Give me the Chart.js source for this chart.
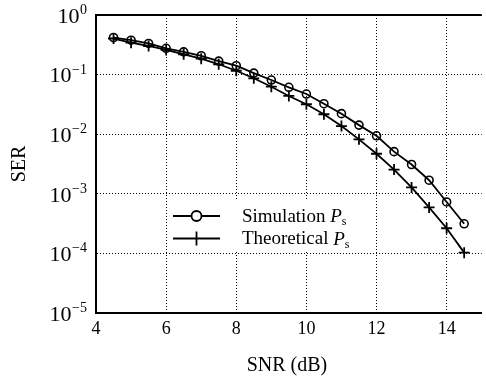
<!DOCTYPE html>
<html>
<head>
<meta charset="utf-8">
<script src="https://cdn.jsdelivr.net/npm/chart.js@4.4.1/dist/chart.umd.min.js"></script>
<style>
  html, body { margin: 0; padding: 0; background: #fff; overflow: hidden; }
</style>
</head>
<body>
<canvas id="myChart" width="489" height="378"></canvas>
<script>
// SNR in dB
const snr = [4.5, 5, 5.5, 6, 6.5, 7, 7.5, 8, 8.5, 9, 9.5, 10, 10.5, 11, 11.5, 12, 12.5, 13, 13.5, 14, 14.5];
// symbol error rate, simulation
const simulation = [0.419, 0.378, 0.333, 0.276, 0.241, 0.207, 0.168, 0.141, 0.106, 0.0811, 0.0612, 0.0472, 0.0325, 0.0221, 0.0142, 0.0094, 0.0051, 0.0031, 0.00169, 0.00073, 0.000314];
// symbol error rate, theory
const theoretical = [0.403, 0.343, 0.302, 0.259, 0.219, 0.185, 0.149, 0.116, 0.0867, 0.0626, 0.0438, 0.0318, 0.0216, 0.0137, 0.0082, 0.0047, 0.00255, 0.00128, 0.00059, 0.000264, 0.000103];
const legendNames = ['Simulation', 'Theoretical'];
const xTicks = [4, 6, 8, 10, 12, 14];
const yTicks = [1e-5, 1e-4, 1e-3, 1e-2, 1e-1, 1];

const serif = "'Liberation Serif', 'Times New Roman', serif";

const toPoints = (ys) => snr.map((x, i) => ({ x: x, y: ys[i] }));

// labels 10^n, axis titles, top frame line and the legend
const decorations = {
  id: 'decorations',
  afterDatasetsDraw(chart) {
    const ctx = chart.ctx;
    const area = chart.chartArea;
    const ys = chart.scales.y;
    ctx.save();

    // top frame
    ctx.strokeStyle = '#000';
    ctx.lineWidth = 2;
    ctx.beginPath();
    ctx.moveTo(area.left - 1, area.top);
    ctx.lineTo(area.right, area.top);
    ctx.stroke();

    // y tick labels with exponent
    ctx.fillStyle = '#000';
    ys.ticks.forEach(t => {
      const py = ys.getPixelForValue(t.value);
      const e = Math.round(Math.log10(t.value));
      const exp = e === 0 ? '0' : '\u2212' + Math.abs(e);
      ctx.font = '14px ' + serif;
      const ew = ctx.measureText(exp).width;
      const right = 87;
      ctx.textAlign = 'left';
      ctx.textBaseline = 'alphabetic';
      ctx.fillText(exp, right - ew, py - 1);
      ctx.font = '22px ' + serif;
      ctx.textAlign = 'right';
      ctx.textBaseline = 'middle';
      ctx.fillText('10', right - ew - 0.5, py + 2);
    });

    // axis titles
    ctx.font = '20px ' + serif;
    ctx.textAlign = 'center';
    ctx.textBaseline = 'middle';
    ctx.fillText('SNR (dB)', 287, 366);
    ctx.save();
    ctx.translate(20, 164);
    ctx.rotate(-Math.PI / 2);
    ctx.fillText('SER', 0, 0);
    ctx.restore();

    // legend
    ctx.fillStyle = '#fff';
    ctx.fillRect(170, 201, 180, 51);
    const rows = [216, 238.5];
    chart.data.datasets.forEach((ds, i) => {
      const y = rows[i];
      ctx.strokeStyle = '#000';
      ctx.lineWidth = 1.8;
      ctx.beginPath();
      ctx.moveTo(173, y);
      ctx.lineTo(220, y);
      ctx.stroke();
      ctx.beginPath();
      if (ds.pointStyle === 'circle') {
        ctx.fillStyle = '#fff';
        ctx.arc(196.5, y, 5, 0, Math.PI * 2);
        ctx.fill();
      } else {
        ctx.moveTo(196.5, y - 7);
        ctx.lineTo(196.5, y + 7);
      }
      ctx.stroke();

      ctx.fillStyle = '#000';
      ctx.textAlign = 'left';
      ctx.textBaseline = 'middle';
      ctx.font = '19px ' + serif;
      const name = legendNames[i] + ' ';
      ctx.fillText(name, 242, y + 1);
      let x = 242 + ctx.measureText(name).width;
      ctx.font = 'italic 19px ' + serif;
      ctx.fillText('P', x, y + 1);
      x += ctx.measureText('P').width;
      ctx.font = '12px ' + serif;
      ctx.fillText('s', x, y + 6);
    });
    ctx.restore();
  }
};

new Chart(document.getElementById('myChart'), {
  type: 'line',
  data: {
    datasets: [{
      label: 'Simulation Ps',
      data: toPoints(simulation),
      borderColor: '#000',
      borderWidth: 1.8,
      pointStyle: 'circle',
      pointRadius: 4,
      pointBorderWidth: 1.6,
      pointBorderColor: '#000',
      pointBackgroundColor: 'rgba(0,0,0,0)',
      tension: 0
    }, {
      label: 'Theoretical Ps',
      data: toPoints(theoretical),
      borderColor: '#000',
      borderWidth: 1.8,
      pointStyle: 'cross',
      pointRadius: 5.5,
      pointBorderWidth: 1.8,
      pointBorderColor: '#000',
      tension: 0
    }]
  },
  options: {
    responsive: false,
    animation: false,
    devicePixelRatio: 1,
    layout: { padding: { top: 15, left: 0, right: 0, bottom: 0 } },
    plugins: {
      legend: { display: false },
      tooltip: { enabled: false }
    },
    scales: {
      x: {
        type: 'linear',
        min: 4,
        max: 15,
        afterBuildTicks: (scale) => { scale.ticks = xTicks.map(v => ({ value: v })); },
        afterFit: (scale) => { scale.height = 65; },
        ticks: {
          color: '#000',
          padding: 5,
          maxRotation: 0,
          font: { family: serif, size: 18 }
        },
        grid: { color: '#000', lineWidth: 1, drawTicks: false },
        border: { display: true, color: '#000', width: 2, dash: [1, 2] }
      },
      y: {
        type: 'logarithmic',
        min: 1e-5,
        max: 1,
        afterBuildTicks: (scale) => { scale.ticks = yTicks.map(v => ({ value: v })); },
        afterFit: (scale) => { scale.width = 96; },
        ticks: { display: false },
        grid: { color: '#000', lineWidth: 1, drawTicks: false },
        border: { display: true, color: '#000', width: 2, dash: [1, 2] }
      }
    }
  },
  plugins: [decorations]
});
</script>
</body>
</html>
